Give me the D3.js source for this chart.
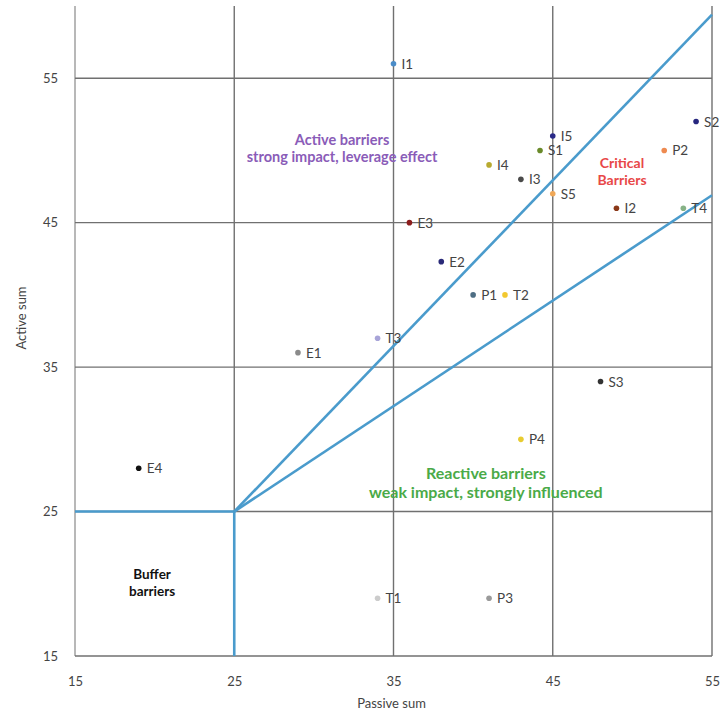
<!DOCTYPE html>
<html>
<head>
<meta charset="utf-8">
<script src="https://cdn.jsdelivr.net/npm/d3@7"></script>
<style>
  body { margin: 0; background: #fff; }
  text { font-family: Lato, "Open Sans", sans-serif; }
</style>
</head>
<body>
<svg id="chart" width="722" height="714"></svg>
<script>
const labels  = ["I1","I5","S2","S1","P2","I4","I3","S5","I2","T4","E3","E2","P1","T2","T3","E1","S3","P4","E4","T1","P3"];
const passive = [35, 45, 54, 44.2, 52, 41, 43, 45, 49, 53.2, 36, 38, 40, 42, 34, 29, 48, 43, 19, 34, 41];
const active  = [56, 51, 52, 50, 50, 49, 48, 47, 46, 46, 45, 42.3, 40, 40, 37, 36, 34, 30, 28, 19, 19];
const colors  = ["#4a8cc8","#2a2a88","#26267e","#6a8a2a","#ee8a50","#b8aa30","#4a4a4a","#f0a858","#8a3818","#86b286","#8c1c1c","#2a2a78","#4e6e84","#f2c830","#a8a4d8","#8a8a8a","#333333","#e8cc30","#111111","#cccccc","#9a9a9a"];
const ticks = [15, 25, 35, 45, 55];
const xDomain = [15, 55];
const yDomain = [15, 60];
const dividers = [
  [[15, 25], [25, 25]],
  [[25, 25], [25, 15]],
  [[25, 25], [55, 59.4]],
  [[25, 25], [55, 46.9]]
];
const zoneText   = [["Active barriers", "strong impact, leverage effect"], ["Critical", "Barriers"], ["Reactive barriers", "weak impact, strongly influenced"], ["Buffer", "barriers"]];
const zoneX      = [31.77, 49.35, 40.8, 19.84];
const zoneY      = [50.37, 48.78, 27.24, 20.32];
const zoneColors = ["#8a5cb8", "#e84848", "#4aaa48", "#111111"];
const zoneSize   = [14.5, 14, 16, 13.5];
const zoneGap    = [17, 17, 19, 17];

const svg = d3.select("#chart");
const mLeft = 75, mRight = 712, mTop = 6, mBottom = 656;
const x = d3.scaleLinear().domain(xDomain).range([mLeft, mRight]);
const y = d3.scaleLinear().domain(yDomain).range([mBottom, mTop]);

// grid
const g = svg.append("g");
g.selectAll(".vg").data(ticks).enter().append("line")
  .attr("x1", d => x(d)).attr("x2", d => x(d))
  .attr("y1", y(yDomain[1])).attr("y2", y(yDomain[0]))
  .attr("stroke", d => d === 15 ? "#9a9a9a" : "#707070").attr("stroke-width", 1.4);
g.selectAll(".hg").data(ticks).enter().append("line")
  .attr("x1", x(xDomain[0])).attr("x2", x(xDomain[1]))
  .attr("y1", d => y(d)).attr("y2", d => y(d))
  .attr("stroke", "#707070").attr("stroke-width", 1.4);

// axes labels
const xAxis = d3.axisBottom(x).tickValues(ticks).tickSize(0).tickPadding(21);
svg.append("g").attr("transform", `translate(0,${mBottom})`).call(xAxis)
  .call(s => s.select(".domain").remove())
  .selectAll("text").attr("font-size", 13).attr("fill", "#444").attr("font-family", "Lato, sans-serif");
const yAxis = d3.axisLeft(y).tickValues(ticks).tickSize(0).tickPadding(17);
svg.append("g").attr("transform", `translate(${mLeft},0)`).call(yAxis)
  .call(s => s.select(".domain").remove())
  .selectAll("text").attr("font-size", 13).attr("fill", "#444").attr("font-family", "Lato, sans-serif");

svg.append("text").attr("x", (mLeft + mRight) / 2 - 2).attr("y", 708)
  .attr("text-anchor", "middle").attr("font-size", 13).attr("fill", "#444").text("Passive sum");
svg.append("text").attr("transform", "translate(26,318) rotate(-90)")
  .attr("text-anchor", "middle").attr("font-size", 13).attr("fill", "#444").text("Active sum");

// dividers
svg.selectAll(".div").data(dividers).enter().append("line")
  .attr("x1", d => x(d[0][0])).attr("y1", d => y(d[0][1]))
  .attr("x2", d => x(d[1][0])).attr("y2", d => y(d[1][1]))
  .attr("stroke", "#4a9bcc").attr("stroke-width", 2.6);

// zone labels
zoneText.forEach((lines, k) => {
  const t = svg.append("text").attr("text-anchor", "middle")
    .attr("font-size", zoneSize[k]).attr("font-weight", "bold").attr("fill", zoneColors[k]);
  lines.forEach((l, i) => {
    t.append("tspan").attr("x", x(zoneX[k])).attr("y", y(zoneY[k]) + i * zoneGap[k]).text(l);
  });
});

// points
const pts = labels.map((l, i) => ({l, px: passive[i], ac: active[i], c: colors[i]}));
const pg = svg.selectAll(".pt").data(pts).enter().append("g");
pg.append("circle").attr("cx", d => x(d.px)).attr("cy", d => y(d.ac)).attr("r", 2.8).attr("fill", d => d.c);
pg.append("text").attr("x", d => x(d.px) + 8).attr("y", d => y(d.ac) + 5)
  .attr("font-size", 13.5).attr("fill", "#444").text(d => d.l);
</script>
</body>
</html>
